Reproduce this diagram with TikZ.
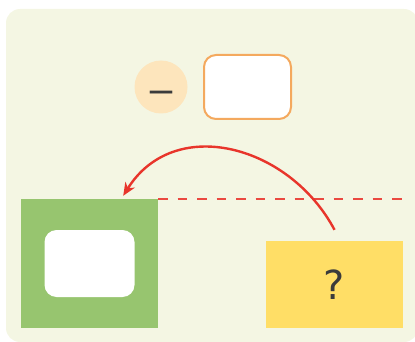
\documentclass[tikz,border=0pt]{standalone}
\usepackage{graphicx}
\usepackage{fontspec}
\setmainfont{DejaVu Sans}
\usetikzlibrary{arrows.meta}

\definecolor{paper}{HTML}{F4F6E3}
\definecolor{peach}{HTML}{FDE5BC}
\definecolor{frame}{HTML}{F4A95E}
\definecolor{leaf}{HTML}{97C56F}
\definecolor{sun}{HTML}{FFDE66}
\definecolor{alert}{HTML}{E8352B}
\definecolor{ink}{HTML}{3B3B3B}

\begin{document}
\begin{tikzpicture}[
    x=1pt, y=-1pt,
    glyph/.style={
        text=ink,
        font=\fontsize{40}{42}\selectfont,
        text height=29pt,
        text depth=0pt
    },
    slot/.style={
        fill=white,
        rounded corners=12pt,
        minimum width=90pt,
        minimum height=67pt,
        inner sep=0pt
    },
    tile/.style={
        minimum width=137pt,
        inner sep=0pt
    }
]
\useasboundingbox (0,0) rectangle (415,342);
% Background panel, cut by the right edge.
\fill[paper, rounded corners=14pt] (6,9) rectangle (418,342);

\node[glyph, text height=33pt, circle, fill=peach, minimum size=53pt, inner sep=0pt]
    (sign) at (161,87) {\scalebox{1.4}[1]{–}};
\node[slot, draw=frame, line width=2pt, minimum width=87pt, minimum height=64pt]
    (blank) at (247.5,87) {};

\node[tile, fill=leaf, minimum height=129pt] (keep) at (89.5,263.5) {};
\node[slot] (hole) at (keep) {};
\node[tile, glyph, fill=sun, minimum height=87pt] (ask) at (334.5,284.5) {?};

\coordinate (rim) at (404,0);
\coordinate (from) at ([yshift=11pt]ask.north);
\coordinate (to) at ([xshift=-35pt,yshift=3pt]keep.north east);

\draw[alert!90!white, line width=2.4pt, dash pattern=on 9.5pt off 10pt]
    (keep.north east) -- (keep.north east -| rim);
\draw[alert, line width=2.4pt, -{Stealth[length=13pt,width=11pt,inset=4pt]}]
    (from) to[out=118, in=58, looseness=1.15] (to);
\end{tikzpicture}
\end{document}
